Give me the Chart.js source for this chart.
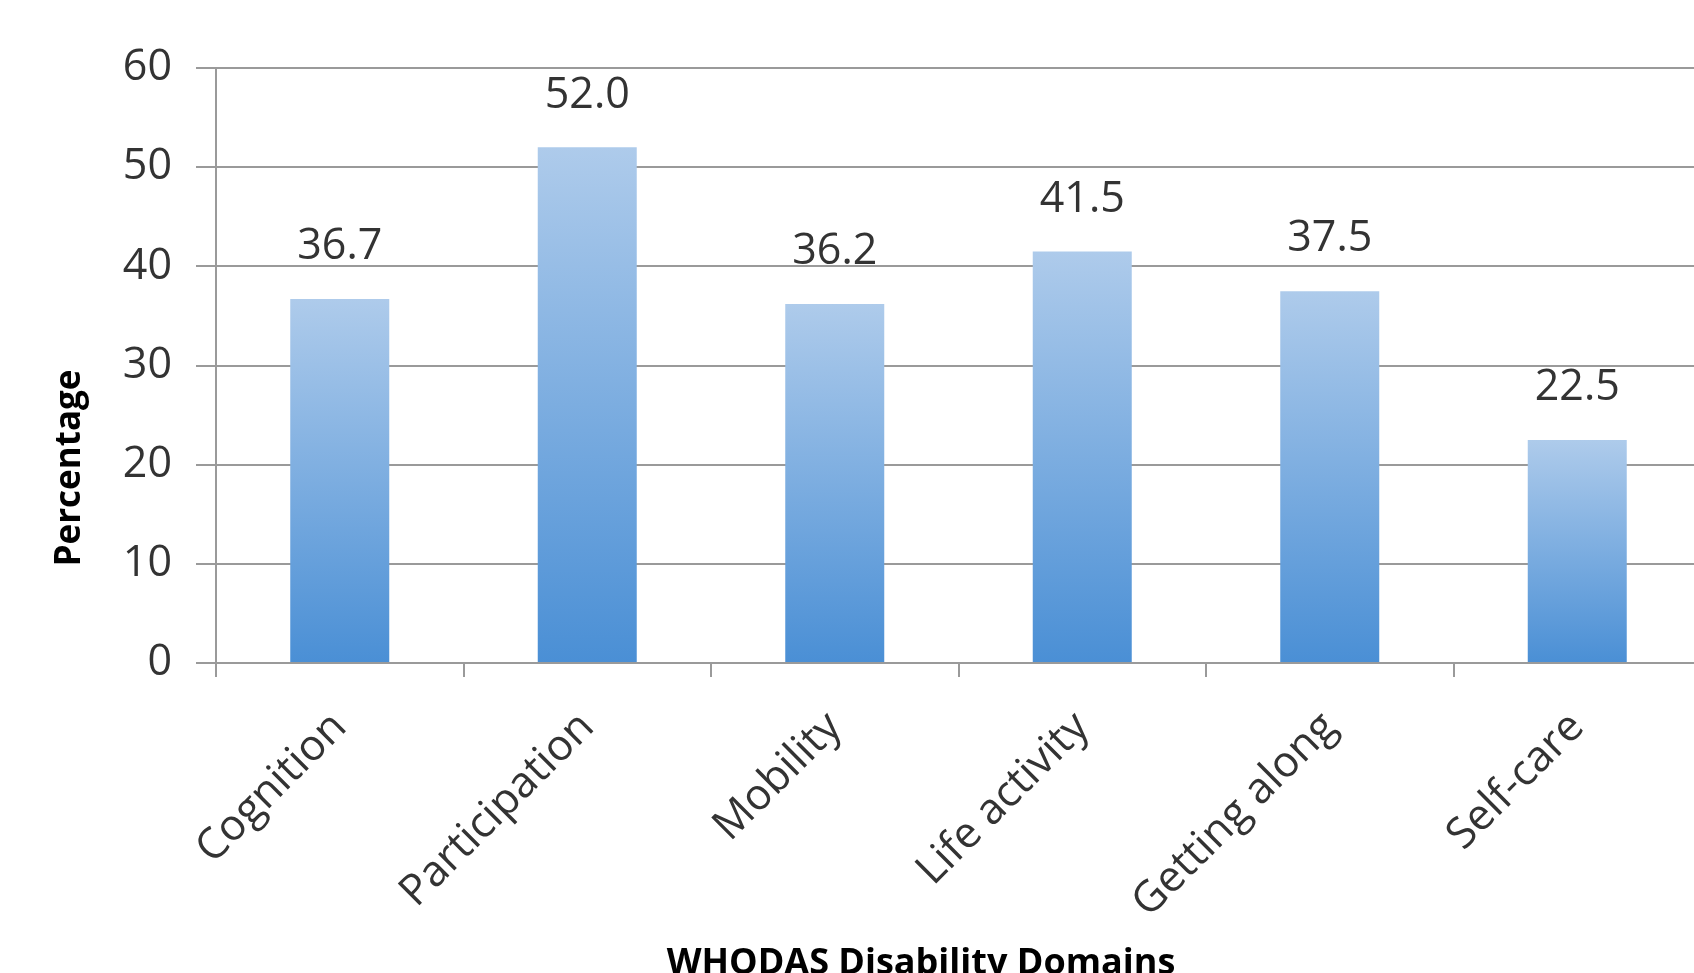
<!DOCTYPE html>
<html>
<head>
<meta charset="utf-8">
<script src="https://cdn.jsdelivr.net/npm/chart.js@4"></script>
<style>
  html, body { margin: 0; padding: 0; background: #ffffff; overflow: hidden; }
  canvas { display: block; }
</style>
</head>
<body>
<canvas id="whodasChart" width="1701" height="973"></canvas>
<script>
const categories = ['Cognition', 'Participation', 'Mobility', 'Life activity', 'Getting along', 'Self-care'];
const percentages = [36.7, 52.0, 36.2, 41.5, 37.5, 22.5];
const yMin = 0;
const yMax = 60;
const yStep = 10;

const xTitle = 'WHODAS Disability Domains';
const yTitle = 'Percentage';

const gridGray = '#9a9a9a';
const textColor = '#333333';

// value labels above the bars + the two axis titles
const extrasPlugin = {
    id: 'extras',
    afterDatasetsDraw(chart) {
        const ctx = chart.ctx;
        const meta = chart.getDatasetMeta(0);
        ctx.save();
        ctx.fillStyle = textColor;
        ctx.font = '43px "Open Sans"';
        ctx.textAlign = 'center';
        ctx.textBaseline = 'middle';
        meta.data.forEach((bar, i) => {
            ctx.fillText(percentages[i].toFixed(1), bar.x, bar.y - 52);
        });

        ctx.fillStyle = '#000000';
        ctx.font = 'bold 36px "Open Sans"';
        ctx.textBaseline = 'alphabetic';
        ctx.fillText(xTitle, 921, 974);

        ctx.font = 'bold 35px "Open Sans"';
        ctx.translate(80, 468);
        ctx.rotate(-Math.PI / 2);
        ctx.fillText(yTitle, 0, 0);
        ctx.restore();
    }
};

const chart = new Chart(document.getElementById('whodasChart').getContext('2d'), {
    type: 'bar',
    data: {
        labels: categories,
        datasets: [{
            data: percentages,
            backgroundColor: function (c) {
                const area = c.chart.chartArea;
                if (!area || c.type !== 'data') return '#6fa3dc';
                const y = c.chart.scales.y;
                const top = y.getPixelForValue(c.parsed.y);
                const bottom = y.getPixelForValue(0);
                const g = c.chart.ctx.createLinearGradient(0, top, 0, bottom);
                g.addColorStop(0, '#aecbeb');
                g.addColorStop(1, '#4a8fd5');
                return g;
            },
            borderWidth: 0,
            barPercentage: 0.4,
            categoryPercentage: 1.0
        }]
    },
    options: {
        responsive: false,
        animation: false,
        layout: { padding: { top: 68, left: 0, right: 0, bottom: 0 } },
        plugins: {
            legend: { display: false },
            tooltip: { enabled: false }
        },
        scales: {
            x: {
                offset: true,
                grid: {
                    display: true,
                    offset: true,
                    drawOnChartArea: false,
                    color: gridGray,
                    lineWidth: 2,
                    tickLength: 14
                },
                border: { display: true, color: gridGray, width: 2 },
                ticks: {
                    color: textColor,
                    font: { family: 'Open Sans', size: 43 },
                    minRotation: 45,
                    maxRotation: 45,
                    padding: 25
                },
                afterFit(scale) { scale.height = 310; }
            },
            y: {
                min: yMin,
                max: yMax,
                grid: {
                    color: gridGray,
                    lineWidth: 2,
                    tickLength: 20
                },
                border: { display: true, color: gridGray, width: 2 },
                ticks: {
                    stepSize: yStep,
                    color: textColor,
                    font: { family: 'Open Sans', size: 43 },
                    padding: 24
                },
                afterFit(scale) { scale.width = 216; }
            }
        }
    },
    plugins: [extrasPlugin]
});
</script>
</body>
</html>
